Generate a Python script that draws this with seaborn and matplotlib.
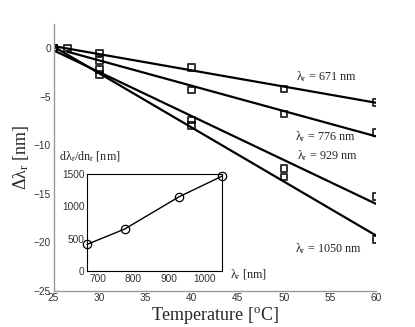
import numpy as np
import matplotlib
matplotlib.use("Agg")
import matplotlib.pyplot as plt
import seaborn as sns

# Datos
temp_671 = [25, 30, 40, 50, 60]
shift_671 = [0, -0.5, -2.0, -4.2, -5.6]
temp_776 = [26.5, 30, 40, 50, 60]
shift_776 = [0, -1.3, -4.3, -6.8, -8.7]
temp_929 = [25, 30, 40, 50, 60]
shift_929 = [0, -2.2, -7.4, -12.4, -15.3]
temp_1050 = [25, 30, 40, 50, 60]
shift_1050 = [0, -2.7, -8.0, -13.3, -19.7]

series = [
    (temp_671, shift_671),
    (temp_776, shift_776),
    (temp_929, shift_929),
    (temp_1050, shift_1050),
]
labels = ["671", "776", "929", "1050"]
label_pos = [(51.3, -2.9), (51.2, -9.1), (51.4, -11.1), (51.2, -20.7)]

# Inset: sensibilidad
lambda_r = [671, 776, 929, 1050]
sensibilidad = [413, 649, 1149, 1469]

sns.set_style("white")
plt.rcParams["font.family"] = ["Liberation Sans", "DejaVu Sans"]
plt.rcParams["mathtext.fontset"] = "custom"
plt.rcParams["mathtext.rm"] = "Liberation Serif"
plt.rcParams["mathtext.it"] = "Liberation Serif:italic"

fig = plt.figure(figsize=(4.15, 3.27), dpi=100)
ax = fig.add_axes([0.129, 0.111, 0.777, 0.816])

for (t, d) in series:
    sns.regplot(
        x=np.array(t),
        y=np.array(d),
        ax=ax,
        ci=None,
        marker="s",
        color="black",
        scatter_kws=dict(s=22, facecolor="none", edgecolor="black", linewidths=1.4),
        line_kws=dict(lw=1.6),
    )

for lab, (xp, yp) in zip(labels, label_pos):
    ax.text(xp, yp, r"$\mathrm{\lambda_r}$ = " + lab + " nm", fontsize=8.7,
            family="Liberation Serif", va="center", ha="left")

ax.set_xlim(25, 60)
ax.set_ylim(-25, 2.5)
ax.set_xticks(np.arange(25, 61, 5))
ax.set_yticks(np.arange(-25, 1, 5))
sns.despine(ax=ax)
for s in ["left", "bottom"]:
    ax.spines[s].set_color("#999999")
    ax.spines[s].set_linewidth(1.0)
ax.tick_params(direction="in", length=3, width=0.8, color="#999999",
               labelsize=7.3, labelcolor="#333333", pad=2)
ax.set_xlabel(r"Temperature [$^{\mathrm{o}}$C]", family="Liberation Serif",
              fontsize=13, labelpad=1)
ax.set_ylabel(r"$\mathrm{\Delta\lambda_r}$ [nm]", family="Liberation Serif",
              fontsize=13, labelpad=2)

# Inset
ins = fig.add_axes([0.210, 0.171, 0.326, 0.297])
sns.lineplot(x=lambda_r, y=sensibilidad, ax=ins, color="black", lw=1.0,
             marker="o", markersize=6, markerfacecolor="none",
             markeredgecolor="black", markeredgewidth=0.9, clip_on=False)
ins.set_xlim(671, 1050)
ins.set_ylim(0, 1500)
ins.set_xticks([700, 800, 900, 1000])
ins.set_yticks([0, 500, 1000, 1500])
for s in ins.spines.values():
    s.set_color("black")
    s.set_linewidth(0.8)
ins.tick_params(direction="in", length=2, width=0.6, labelsize=7.3,
                labelcolor="#333333", pad=2)
ins.set_xlabel("")
ins.set_ylabel("")

fig.text(0.142, 0.52, r"d$\mathrm{\lambda_r}$/dn$_\mathrm{r}$ [nm]",
         family="Liberation Serif", fontsize=8.7, va="center", ha="left")
fig.text(0.554, 0.159, r"$\mathrm{\lambda_r}$ [nm]",
         family="Liberation Serif", fontsize=8.7, va="center", ha="left")

fig.savefig("out.png", dpi=100)
